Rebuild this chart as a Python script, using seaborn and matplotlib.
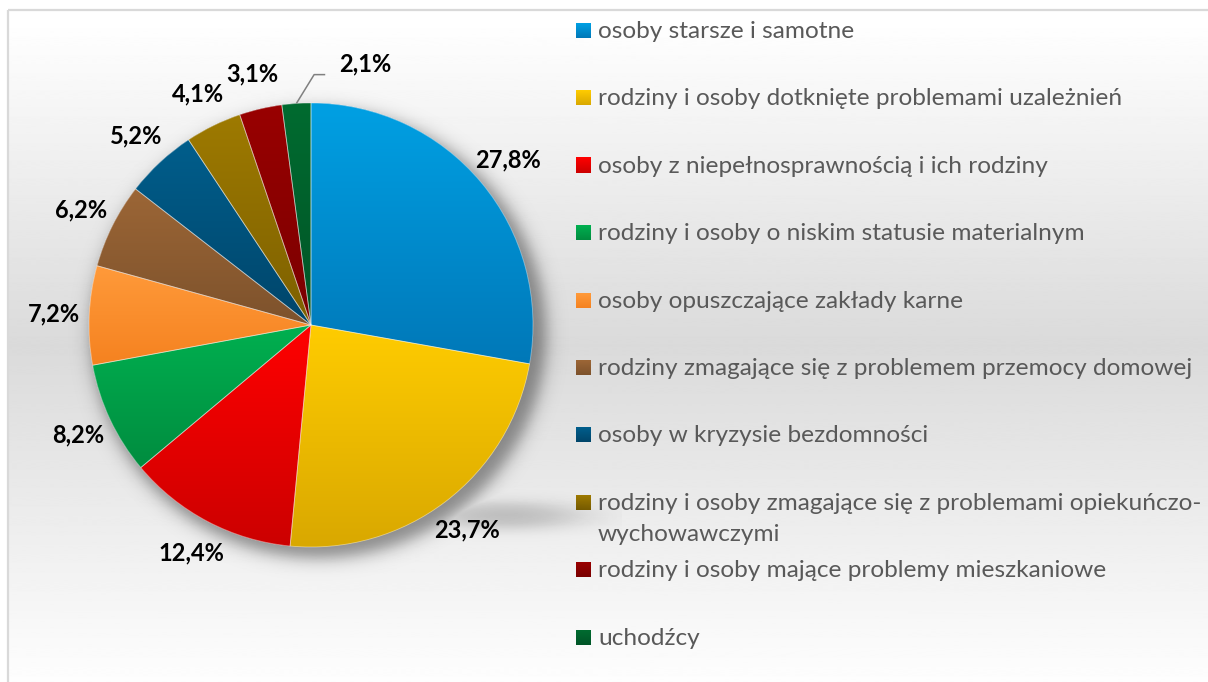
import numpy as np
import matplotlib
matplotlib.use("Agg")
import matplotlib.pyplot as plt
import seaborn as sns
from matplotlib.patches import Rectangle, Wedge

# Data
categories = [
    "osoby starsze i samotne",
    "rodziny i osoby dotknięte problemami uzależnień",
    "osoby z niepełnosprawnością i ich rodziny",
    "rodziny i osoby o niskim statusie materialnym",
    "osoby opuszczające zakłady karne",
    "rodziny zmagające się z problemem przemocy domowej",
    "osoby w kryzysie bezdomności",
    "rodziny i osoby zmagające się z problemami opiekuńczo-\nwychowawczymi",
    "rodziny i osoby mające problemy mieszkaniowe",
    "uchodźcy",
]
shares = [27.8, 23.7, 12.4, 8.2, 7.2, 6.2, 5.2, 4.1, 3.1, 2.1]

# gradient colours per slice (top -> bottom)
top_colors = ["#00A0E3", "#FFCC00", "#FF0000", "#00B050", "#FF9A3A",
              "#9C6636", "#005E8C", "#9E7A00", "#990000", "#006B30"]
bottom_colors = ["#0078B8", "#D9A800", "#CC0000", "#008C3F", "#F58220",
                 "#7D522C", "#00456A", "#7D6000", "#7A0000", "#005527"]

sns.set_theme(style="white")
plt.rcParams["font.family"] = ["Lato", "DejaVu Sans"]

W, H = 1208, 682
fig = plt.figure(figsize=(W / 100, H / 100), dpi=100, facecolor="white")

# Background panel with vertical gradient and frame
bg = fig.add_axes([0, 0, 1, 1])
bg.axis("off")
yy = np.arange(H)
shade = np.interp(yy, [10, 340, H], [1.0, 0.855, 0.995])
bg.imshow(shade.reshape(-1, 1), cmap="gray", vmin=0, vmax=1, aspect="auto",
          extent=(8, W, H, 10), interpolation="bilinear", zorder=0)
bg.add_patch(Rectangle((8, 10), W + 10, H + 10, fill=False,
                       edgecolor="#D9D9D9", linewidth=1.6, zorder=1))

# Legend (manual, Excel style)
row0, row_step = 30.5, 67.4
for i, (lab, c1, c2) in enumerate(zip(categories, top_colors, bottom_colors)):
    cy = row0 + i * row_step
    cmap = sns.blend_palette([c1, c2], as_cmap=True)
    bg.imshow(np.linspace(0, 1, 32).reshape(-1, 1), cmap=cmap, aspect="auto",
              extent=(576, 591, cy + 7.5, cy - 7.5), zorder=2)
    for j, line in enumerate(lab.split("\n")):
        bg.text(598, cy + 7.5 + j * 31.5, line, fontsize=17.6, color="#595959",
                va="baseline", ha="left", zorder=3)
bg.set_xlim(0, W)
bg.set_ylim(H, 0)

# Pie axes
R_px, L = 222, 1.4
cx, cy = 311, H - 325
half = R_px * L
ax = fig.add_axes([(cx - half) / W, (cy - half) / H, 2 * half / W, 2 * half / H])
ax.set_facecolor("none")

labels = [f"{v:.1f}%".replace(".", ",") for v in shares]
wedges, texts = ax.pie(shares, startangle=90, counterclock=False,
                       colors=bottom_colors, labels=labels, labeldistance=1.16,
                       wedgeprops=dict(linewidth=0),
                       textprops=dict(fontsize=17, fontweight="bold", color="black"))

# soft shadow behind the pie
gx, gy = np.meshgrid(np.linspace(-L, L, 700), np.linspace(-L, L, 700))
d1 = np.sqrt(((gx - 0.035) / 1.025) ** 2 + ((gy + 0.04) / 1.01) ** 2)
a1 = 0.42 / (1 + np.exp((d1 - 1.0) / 0.022))
d2 = np.sqrt(((gx - 0.88) / 0.30) ** 2 + ((gy + 0.86) / 0.055) ** 2)
a2 = 0.2 / (1 + np.exp((d2 - 1.0) / 0.3))
alpha = np.maximum(a1, a2)
shadow = np.zeros((700, 700, 4))
shadow[..., 3] = alpha
ax.imshow(shadow, extent=(-L, L, -L, L), origin="lower", zorder=0.5,
          interpolation="bilinear")

# gradient fill clipped to each wedge
grad = np.linspace(0, 1, 256).reshape(-1, 1)
for w, c1, c2 in zip(wedges, top_colors, bottom_colors):
    w.set_zorder(1)
    ext = w.get_path().get_extents()
    cmap = sns.blend_palette([c1, c2], as_cmap=True)
    im = ax.imshow(grad, cmap=cmap, extent=(ext.x0, ext.x1, ext.y0, ext.y1),
                   origin="upper", aspect="auto", interpolation="bilinear", zorder=2)
    im.set_clip_path(w)
    ax.add_patch(Wedge(w.center, w.r, w.theta1, w.theta2, facecolor="none",
                       edgecolor=(1, 1, 1, 0.45), linewidth=0.6, zorder=3))

for t in texts:
    t.set_horizontalalignment("center")
    t.set_verticalalignment("center")
    t.set_zorder(4)

# the smallest slice gets its label pulled out with a leader line
w = wedges[-1]
mid = np.deg2rad((w.theta1 + w.theta2) / 2)
ax_, ay_ = np.cos(mid), np.sin(mid)
elbow = (ax_ + 0.08, ay_ + 0.13)
end = (elbow[0] + 0.05, elbow[1])
ax.plot([ax_, elbow[0], end[0]], [ay_, elbow[1], end[1]], color="#808080",
        linewidth=1.1, zorder=3, solid_capstyle="butt")
texts[-1].set_position((ax_ + 0.31, ay_ + 0.18))

ax.set_xlim(-L, L)
ax.set_ylim(-L, L)
ax.set_aspect("equal")
ax.axis("off")

fig.savefig("out.png", dpi=100, facecolor="white")
